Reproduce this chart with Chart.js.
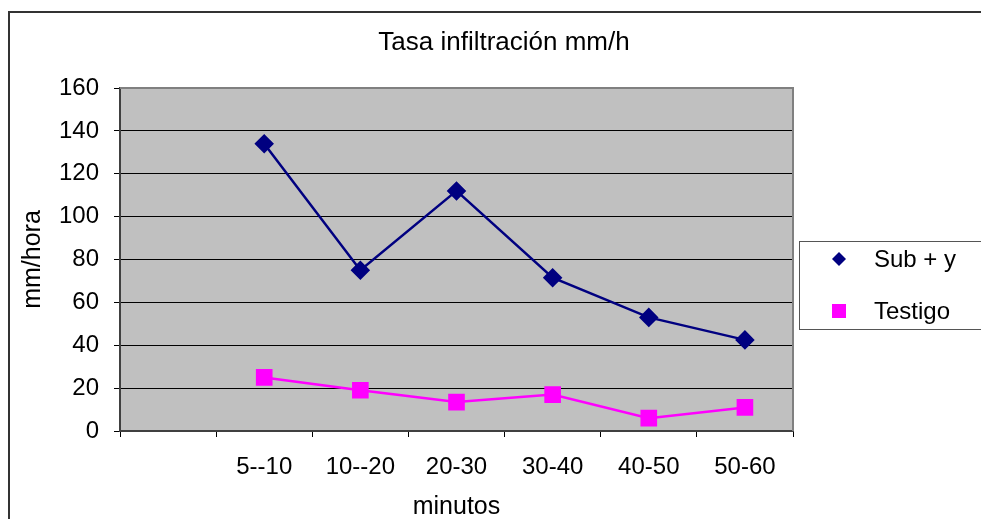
<!DOCTYPE html>
<html>
<head>
<meta charset="utf-8">
<script src="https://cdn.jsdelivr.net/npm/chart.js@4.4.1/dist/chart.umd.min.js"></script>
<style>
  body { margin: 0; background: #fff; }
  #wrap { width: 981px; height: 519px; }
</style>
</head>
<body>
<div id="wrap"><canvas id="grafico" width="981" height="519"></canvas></div>
<script>
// datos
const categorias = ["", "5--10", "10--20", "20-30", "30-40", "40-50", "50-60"];
const subY = [null, 134, 75, 112, 71.5, 53, 42.5];
const testigo = [null, 25, 19, 13.5, 17, 6, 11];
const ticksY = [0, 20, 40, 60, 80, 100, 120, 140, 160];
const titulo = "Tasa infiltración mm/h";

const fuente = "'Liberation Sans', Arial, sans-serif";

// fondo gris del area de trazado, bordes, titulo y leyenda
const fondoPlugin = {
  id: "fondo",
  beforeDraw(chart) {
    const { ctx, chartArea } = chart;
    ctx.save();
    ctx.fillStyle = "#fff";
    ctx.fillRect(0, 0, chart.width, chart.height);
    ctx.fillStyle = "#c0c0c0";
    ctx.fillRect(chartArea.left, chartArea.top, chartArea.right - chartArea.left, chartArea.bottom - chartArea.top);
    ctx.restore();
  },
  beforeDatasetsDraw(chart) {
    const { ctx, chartArea } = chart;
    ctx.save();
    ctx.strokeStyle = "#808080";
    ctx.lineWidth = 2;
    ctx.beginPath();
    ctx.moveTo(chartArea.left, chartArea.top);
    ctx.lineTo(chartArea.right, chartArea.top);
    ctx.lineTo(chartArea.right, chartArea.bottom);
    ctx.stroke();
    ctx.restore();
  },
  afterDraw(chart) {
    const ctx = chart.ctx;
    ctx.save();
    // marco exterior
    ctx.strokeStyle = "#333";
    ctx.lineWidth = 2;
    ctx.beginPath();
    ctx.moveTo(9, chart.height + 5);
    ctx.lineTo(9, 12);
    ctx.lineTo(chart.width + 5, 12);
    ctx.stroke();

    // titulo centrado en todo el grafico
    ctx.fillStyle = "#000";
    ctx.font = "26px " + fuente;
    ctx.textAlign = "center";
    ctx.textBaseline = "middle";
    ctx.fillText(titulo, 504, 43);

    // leyenda
    ctx.strokeStyle = "#555";
    ctx.lineWidth = 1;
    ctx.strokeRect(799.5, 241.5, 200, 88);
    ctx.font = "24px " + fuente;
    ctx.textAlign = "left";
    const filas = [259, 311];
    chart.data.datasets.forEach((ds, i) => {
      const y = filas[i];
      ctx.fillStyle = ds.pointBackgroundColor;
      ctx.beginPath();
      if (ds.pointStyle === "rectRot") {
        ctx.moveTo(839, y - 7);
        ctx.lineTo(846, y);
        ctx.lineTo(839, y + 7);
        ctx.lineTo(832, y);
        ctx.closePath();
      } else {
        ctx.rect(832, y - 7, 14, 14);
      }
      ctx.fill();
      ctx.fillStyle = "#000";
      ctx.fillText(ds.label, 874, y + 1);
    });
    ctx.restore();
  }
};

new Chart(document.getElementById("grafico"), {
  type: "line",
  data: {
    labels: categorias,
    datasets: [
      {
        label: "Sub + y",
        data: subY,
        borderColor: "#000080",
        backgroundColor: "#000080",
        pointBackgroundColor: "#000080",
        pointBorderColor: "#000080",
        pointStyle: "rectRot",
        pointRadius: 8,
        borderWidth: 2.5,
        tension: 0,
      },
      {
        label: "Testigo",
        data: testigo,
        borderColor: "#ff00ff",
        backgroundColor: "#ff00ff",
        pointBackgroundColor: "#ff00ff",
        pointBorderColor: "#ff00ff",
        pointStyle: "rect",
        pointRadius: 10,
        borderWidth: 2.5,
        tension: 0,
      },
    ],
  },
  options: {
    responsive: false,
    animation: false,
    layout: {
      padding: { left: 10, right: 188, top: 88, bottom: 0 },
    },
    plugins: {
      legend: { display: false },
      tooltip: { enabled: false },
      title: { display: false },
    },
    scales: {
      x: {
        offset: true,
        afterFit(scale) { scale.height = 88; },
        grid: {
          offset: true,
          drawOnChartArea: false,
          drawTicks: true,
          tickLength: 6,
          color: "#000",
        },
        border: { display: true, color: "#404040", width: 2 },
        ticks: {
          color: "#000",
          font: { family: fuente, size: 24 },
          padding: 16,
          maxRotation: 0,
          autoSkip: false,
        },
        title: {
          display: true,
          text: "minutos",
          color: "#000",
          font: { family: fuente, size: 25 },
          padding: { top: 0, bottom: -3 },
        },
      },
      y: {
        min: 0,
        max: 160,
        afterFit(scale) { scale.width = 110; },
        afterBuildTicks(scale) { scale.ticks = ticksY.map((v) => ({ value: v })); },
        grid: {
          color: "#000",
          lineWidth: 1,
          drawTicks: true,
          tickLength: 6,
        },
        border: { display: true, color: "#404040", width: 2 },
        ticks: {
          color: "#000",
          font: { family: fuente, size: 24 },
          padding: 15,
        },
        title: {
          display: true,
          text: "mm/hora",
          color: "#000",
          font: { family: fuente, size: 25 },
          padding: { top: 8, bottom: 0 },
        },
      },
    },
  },
  plugins: [fondoPlugin],
});
</script>
</body>
</html>
